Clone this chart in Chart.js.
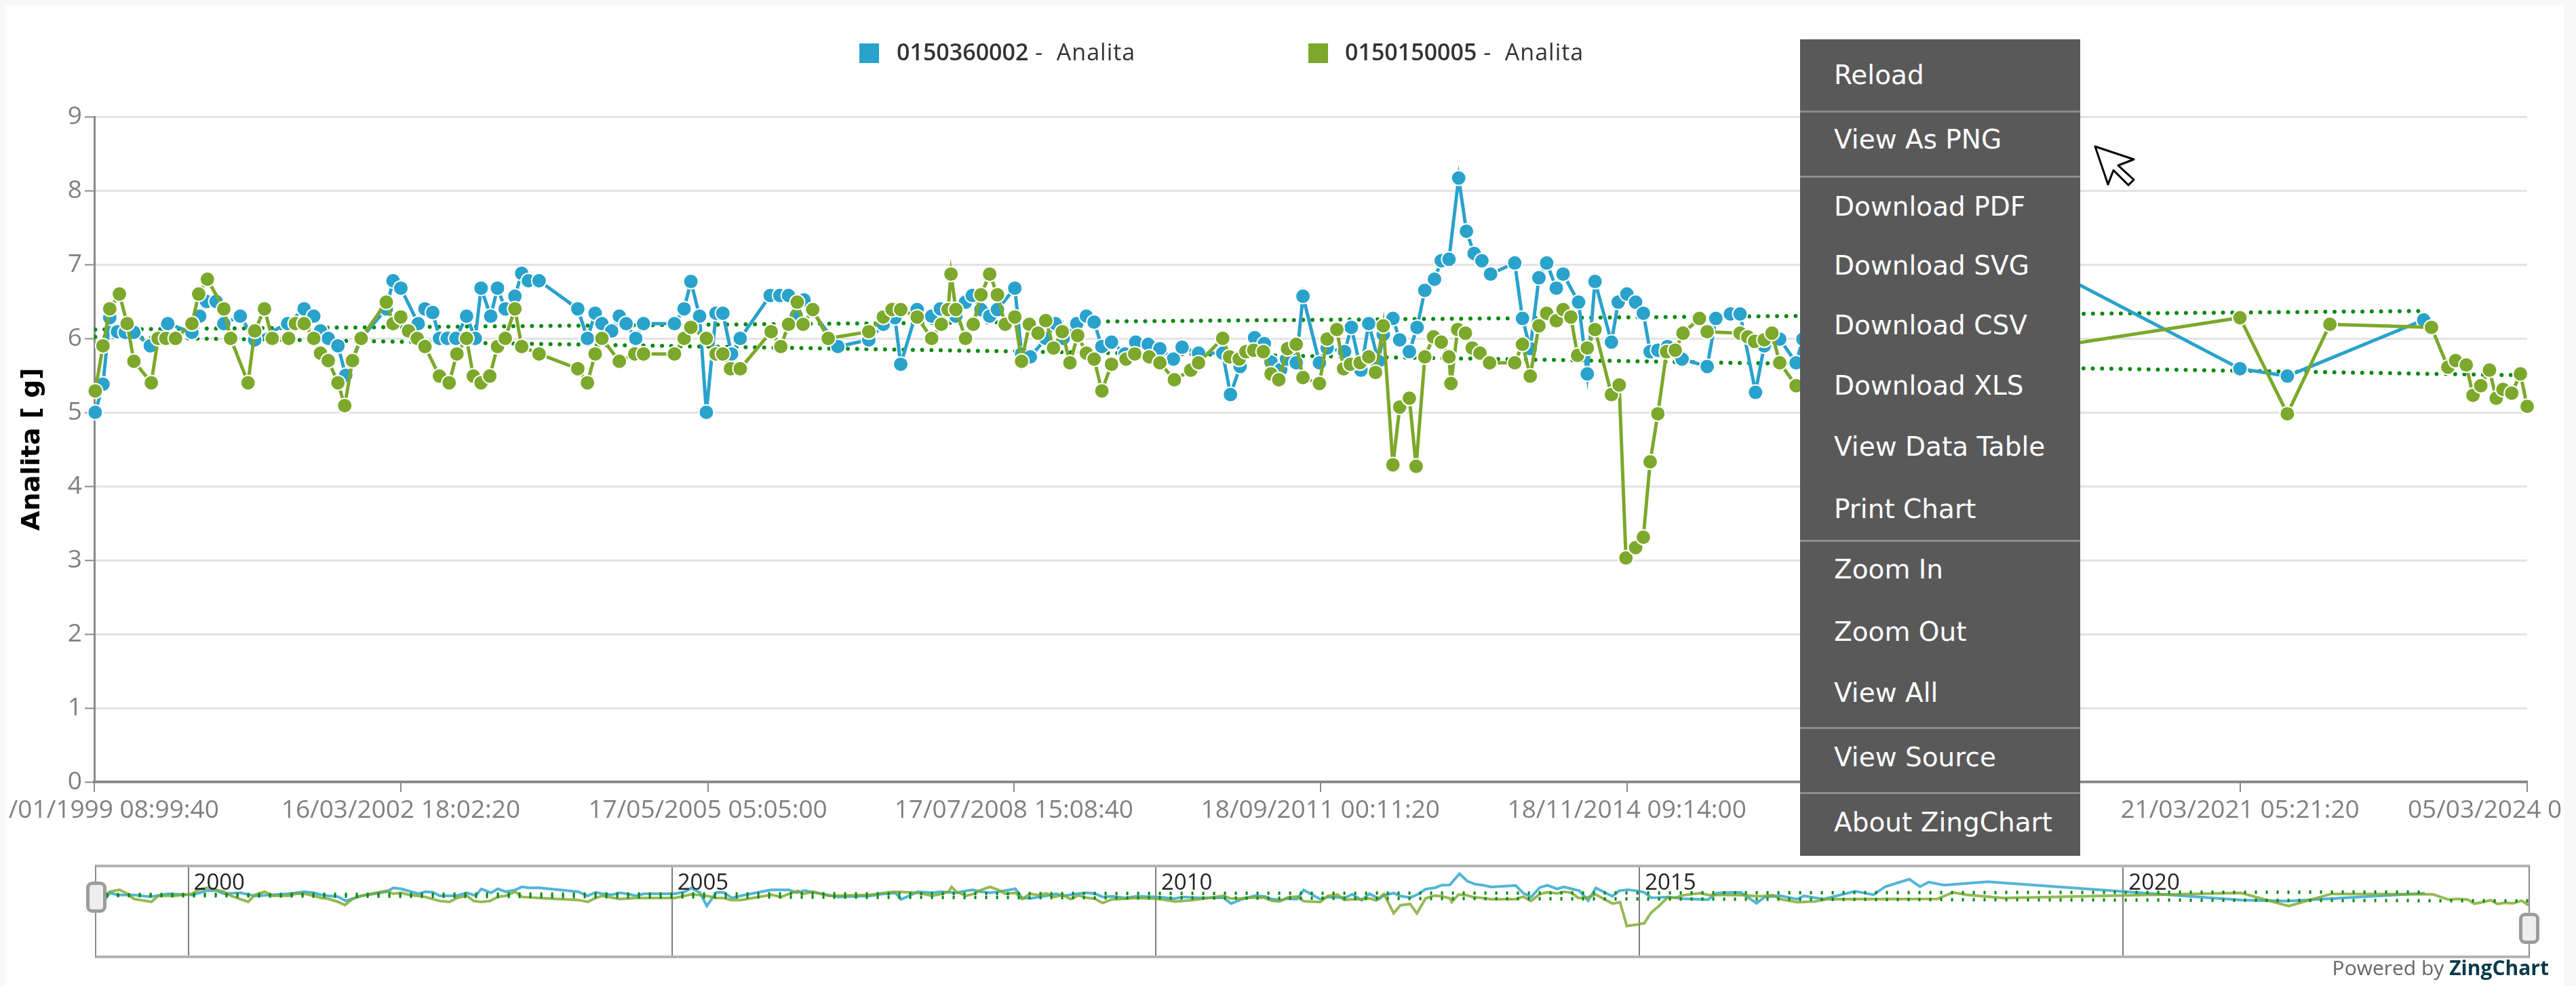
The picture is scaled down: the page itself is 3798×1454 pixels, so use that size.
<!DOCTYPE html>
<html>
<head>
<meta charset="utf-8">
<title>Analita</title>
<script src="https://cdn.jsdelivr.net/npm/chart.js@4"></script>
<style>
    html, body { margin: 0; padding: 0; width: 3798px; height: 1454px; overflow: hidden; background: #f8f8f8; }
    #card { position: absolute; left: 8px; top: 8px; width: 3772px; height: 1446px; background: #fff; }
    #main { position: absolute; left: 0; top: 0; }
    .legend { position: absolute; top: 52px; font: 34px "Open Sans"; color: #333; white-space: pre; line-height: 48px; letter-spacing: 1px; }
    .legend b { font-weight: 600; letter-spacing: 0; }
    .swatch { position: absolute; top: 64px; width: 29px; height: 29px; }
    #miniFrame { position: absolute; left: 140px; top: 1275px; width: 3586px; height: 130px; border-style: solid; border-color: #b4b4b4 #8c8c8c; border-width: 4px 2px; }
    #mini { position: absolute; left: 0; top: 0; }
    .handle { position: absolute; width: 20px; height: 36px; background: #eee; border: 5px solid #9c9c9c; border-radius: 9px; }
    #powered { position: absolute; right: 40px; top: 1406px; font: 30px "Open Sans"; color: #666; white-space: pre; }
    #powered b { color: #0b3a4a; }
    #menu { position: absolute; left: 2654px; top: 58px; width: 413px; height: 1204px; background: #595959; color: #fff; font: 39px "DejaVu Sans"; }
    #menu div { position: absolute; left: 50px; white-space: pre; line-height: 50px; }
    #menu hr { position: absolute; left: 0; width: 100%; height: 3px; margin: 0; border: 0; background: #8d8d8d; }
    #cursor { position: absolute; left: 0; top: 0; }
</style>
</head>
<body>
<div id="card"></div>
<canvas id="main" width="3798" height="1454"></canvas>

<div class="swatch" style="left:1267px;background:#29a2cc"></div>
<div class="legend" style="left:1322px"><b>0150360002</b> -  Analita</div>
<div class="swatch" style="left:1929px;background:#7ca82b"></div>
<div class="legend" style="left:1983px"><b>0150150005</b> -  Analita</div>

<div id="miniFrame"><canvas id="mini" width="3586" height="130"></canvas></div>
<div class="handle" style="left:127px;top:1300px"></div>
<div class="handle" style="left:3714px;top:1346px"></div>
<div id="powered">Powered by <b>ZingChart</b></div>

<div id="menu">
    <div style="top:28px">Reload</div>
    <hr style="top:105px">
    <div style="top:123px">View As PNG</div>
    <hr style="top:201px">
    <div style="top:222px">Download PDF</div>
    <div style="top:309px">Download SVG</div>
    <div style="top:397px">Download CSV</div>
    <div style="top:486px">Download XLS</div>
    <div style="top:576px">View Data Table</div>
    <div style="top:668px">Print Chart</div>
    <hr style="top:738px">
    <div style="top:757px">Zoom In</div>
    <div style="top:849px">Zoom Out</div>
    <div style="top:939px">View All</div>
    <hr style="top:1014px">
    <div style="top:1034px">View Source</div>
    <hr style="top:1110px">
    <div style="top:1130px">About ZingChart</div>
</div>

<svg id="cursor" width="3798" height="1454">
    <polygon points="3089,216 3146,235 3123,244 3146,265 3138,273 3116,251 3108,272" fill="#fff" stroke="#000" stroke-width="3" stroke-linejoin="round"/>
</svg>

<script>
// values, x is a decimal year
const blueYears = [
    1999.04, 1999.12, 1999.19, 1999.27, 1999.35, 1999.44, 1999.61, 1999.79, 2000.04, 2000.12,
    2000.19, 2000.29, 2000.37, 2000.54, 2000.69, 2001.03, 2001.20, 2001.30, 2001.37, 2001.45,
    2001.55, 2001.63, 2001.79, 2002.05, 2002.12, 2002.20, 2002.38, 2002.45, 2002.53, 2002.60,
    2002.68, 2002.77, 2002.88, 2002.97, 2003.03, 2003.13, 2003.20, 2003.28, 2003.38, 2003.45,
    2003.52, 2003.63, 2004.03, 2004.13, 2004.21, 2004.28, 2004.38, 2004.46, 2004.53, 2004.63,
    2004.71, 2005.03, 2005.13, 2005.20, 2005.29, 2005.36, 2005.46, 2005.53, 2005.62, 2005.71,
    2006.02, 2006.12, 2006.21, 2006.29, 2006.37, 2006.72, 2007.04, 2007.19, 2007.31, 2007.37,
    2007.54, 2007.69, 2007.78, 2007.94, 2008.04, 2008.11, 2008.20, 2008.29, 2008.37, 2008.55,
    2008.62, 2008.71, 2008.87, 2008.97, 2009.05, 2009.19, 2009.29, 2009.37, 2009.45, 2009.55,
    2009.69, 2009.80, 2009.93, 2010.05, 2010.19, 2010.28, 2010.45, 2010.70, 2010.78, 2010.88,
    2011.03, 2011.13, 2011.20, 2011.30, 2011.36, 2011.46, 2011.53, 2011.70, 2011.78, 2011.96,
    2012.03, 2012.13, 2012.21, 2012.31, 2012.36, 2012.46, 2012.53, 2012.63, 2012.71, 2012.79,
    2012.89, 2012.96, 2013.04, 2013.14, 2013.22, 2013.30, 2013.38, 2013.47, 2013.72, 2013.80,
    2013.88, 2013.97, 2014.05, 2014.15, 2014.22, 2014.38, 2014.47, 2014.55, 2014.72, 2014.79,
    2014.88, 2014.97, 2015.05, 2015.12, 2015.20, 2015.30, 2015.45, 2015.71, 2015.80, 2015.95,
    2016.05, 2016.21, 2016.30, 2016.46, 2016.63, 2016.70, 2016.90, 2017.23, 2017.42, 2017.54,
    2017.79, 2017.90, 2017.99, 2018.15, 2018.60, 2021.22, 2021.71, 2023.12
];
const blueValues = [
    5.0, 5.38, 6.28, 6.09, 6.08, 6.08, 5.9, 6.2, 6.08, 6.3,
    6.5, 6.5, 6.2, 6.3, 5.98, 6.2, 6.4, 6.3, 6.1, 6.0,
    5.9, 5.5, 6.0, 6.4, 6.78, 6.68, 6.2, 6.4, 6.35, 6.0,
    6.0, 6.0, 6.3, 6.0, 6.68, 6.3, 6.68, 6.4, 6.57, 6.88,
    6.78, 6.78, 6.4, 6.0, 6.34, 6.2, 6.1, 6.3, 6.2, 6.0,
    6.2, 6.2, 6.4, 6.77, 6.3, 5.0, 6.34, 6.34, 5.79, 6.0,
    6.58, 6.58, 6.58, 6.31, 6.52, 5.89, 5.98, 6.19, 6.28, 5.65,
    6.39, 6.3, 6.4, 6.3, 6.49, 6.58, 6.39, 6.3, 6.39, 6.68,
    5.79, 5.75, 6.0, 6.2, 6.0, 6.2, 6.3, 6.22, 5.89, 5.95,
    5.79, 5.95, 5.92, 5.86, 5.72, 5.88, 5.8, 5.8, 5.24, 5.62,
    6.01, 5.93, 5.68, 5.58, 5.72, 5.67, 6.57, 5.67, 5.87, 5.82,
    6.15, 5.57, 6.2, 5.69, 6.05, 6.27, 5.98, 5.82, 6.15, 6.65,
    6.8, 7.05, 7.07, 8.17, 7.45, 7.15, 7.05, 6.87, 7.02, 6.27,
    5.86, 6.82, 7.02, 6.68, 6.87, 6.49, 5.52, 6.77, 5.95, 6.49,
    6.6, 6.49, 6.34, 5.82, 5.84, 5.89, 5.72, 5.62, 6.27, 6.33,
    6.33, 5.27, 5.9, 5.99, 5.67, 5.99, 5.67, 6.45, 6.1, 6.9,
    7.63, 6.9, 7.34, 7.05, 7.38, 5.59, 5.49, 6.25
];

const greenYears = [
    1999.04, 1999.12, 1999.19, 1999.29, 1999.37, 1999.44, 1999.62, 1999.69, 1999.77, 1999.87,
    2000.04, 2000.11, 2000.20, 2000.37, 2000.44, 2000.62, 2000.69, 2000.79, 2000.87, 2001.04,
    2001.11, 2001.20, 2001.30, 2001.37, 2001.45, 2001.55, 2001.62, 2001.70, 2001.79, 2002.05,
    2002.12, 2002.20, 2002.28, 2002.37, 2002.45, 2002.60, 2002.70, 2002.78, 2002.88, 2002.95,
    2003.03, 2003.12, 2003.20, 2003.28, 2003.38, 2003.45, 2003.63, 2004.03, 2004.13, 2004.21,
    2004.28, 2004.46, 2004.62, 2004.71, 2005.03, 2005.13, 2005.20, 2005.36, 2005.46, 2005.53,
    2005.61, 2005.71, 2006.03, 2006.13, 2006.21, 2006.30, 2006.36, 2006.46, 2006.62, 2007.04,
    2007.19, 2007.28, 2007.37, 2007.54, 2007.69, 2007.79, 2007.86, 2007.89, 2007.94, 2008.04,
    2008.12, 2008.20, 2008.29, 2008.37, 2008.45, 2008.55, 2008.62, 2008.70, 2008.79, 2008.87,
    2008.95, 2009.04, 2009.12, 2009.20, 2009.29, 2009.37, 2009.45, 2009.55, 2009.70, 2009.79,
    2009.94, 2010.05, 2010.20, 2010.37, 2010.45, 2010.70, 2010.77, 2010.87, 2010.94, 2011.02,
    2011.12, 2011.20, 2011.28, 2011.37, 2011.46, 2011.53, 2011.70, 2011.78, 2011.88, 2011.95,
    2012.02, 2012.12, 2012.21, 2012.28, 2012.36, 2012.46, 2012.53, 2012.63, 2012.70, 2012.79,
    2012.88, 2012.96, 2013.04, 2013.06, 2013.13, 2013.21, 2013.28, 2013.36, 2013.46, 2013.72,
    2013.80, 2013.88, 2013.97, 2014.05, 2014.15, 2014.22, 2014.30, 2014.37, 2014.47, 2014.55,
    2014.72, 2014.80, 2014.87, 2014.97, 2015.05, 2015.12, 2015.20, 2015.29, 2015.38, 2015.46,
    2015.63, 2015.71, 2016.05, 2016.13, 2016.20, 2016.30, 2016.38, 2016.46, 2016.63, 2016.81,
    2016.94, 2018.08, 2018.24, 2018.38, 2018.76, 2021.22, 2021.71, 2022.15, 2023.20, 2023.37,
    2023.45, 2023.56, 2023.63, 2023.71, 2023.80, 2023.87, 2023.94, 2024.03, 2024.12, 2024.19
];
const greenValues = [
    5.29, 5.9, 6.4, 6.6, 6.2, 5.69, 5.4, 6.0, 6.0, 6.0,
    6.2, 6.6, 6.8, 6.4, 6.0, 5.4, 6.1, 6.4, 6.0, 6.0,
    6.2, 6.2, 6.0, 5.8, 5.7, 5.4, 5.09, 5.7, 6.0, 6.49,
    6.2, 6.29, 6.1, 6.0, 5.89, 5.49, 5.4, 5.79, 6.0, 5.49,
    5.4, 5.49, 5.89, 6.0, 6.4, 5.89, 5.79, 5.59, 5.4, 5.79,
    6.0, 5.69, 5.79, 5.79, 5.79, 6.0, 6.15, 6.0, 5.79, 5.79,
    5.59, 5.59, 6.09, 5.89, 6.19, 6.49, 6.19, 6.39, 6.0, 6.09,
    6.29, 6.39, 6.39, 6.29, 6.0, 6.19, 6.39, 6.87, 6.39, 6.0,
    6.19, 6.59, 6.87, 6.59, 6.19, 6.29, 5.69, 6.19, 6.07, 6.24,
    5.87, 6.09, 5.67, 6.04, 5.8, 5.72, 5.29, 5.65, 5.72, 5.79,
    5.75, 5.67, 5.44, 5.57, 5.67, 6.0, 5.75, 5.72, 5.82, 5.84,
    5.82, 5.52, 5.44, 5.86, 5.92, 5.47, 5.39, 5.99, 6.12, 5.59,
    5.65, 5.67, 5.75, 5.54, 6.17, 4.29, 5.07, 5.19, 4.27, 5.75,
    6.02, 5.95, 5.75, 5.39, 6.12, 6.07, 5.87, 5.8, 5.67, 5.67,
    5.92, 5.49, 6.17, 6.34, 6.24, 6.39, 6.29, 5.77, 5.87, 6.12,
    5.24, 5.37, 3.03, 3.17, 3.31, 4.33, 4.98, 5.82, 5.84, 6.07,
    6.27, 6.09, 6.07, 6.02, 5.96, 5.98, 6.07, 5.67, 5.36, 5.44,
    5.67, 5.7, 6.33, 6.1, 5.78, 6.28, 4.98, 6.19, 6.15, 5.61,
    5.7, 5.64, 5.23, 5.36, 5.57, 5.19, 5.31, 5.26, 5.52, 5.08
];

const blueTrendYears = [1999.04, 2023.12];
const blueTrendValues = [6.12, 6.37];
const greenTrendYears = [1999.04, 2024.19];
const greenTrendValues = [6.02, 5.5];

const tickYears = [1999.03, 2002.20, 2005.375, 2008.54, 2011.71, 2014.88, 2021.22, 2024.19];
const tickLabels = [
    "/01/1999 08:99:40", "16/03/2002 18:02:20", "17/05/2005 05:05:00", "17/07/2008 15:08:40",
    "18/09/2011 00:11:20", "18/11/2014 09:14:00", "21/03/2021 05:21:20", "05/03/2024 0"
];
const valueTicks = [0, 1, 2, 3, 4, 5, 6, 7, 8, 9];
const miniYears = [2000, 2005, 2010, 2015, 2020];

const firstYear = 1999.03;
const lastYear = 2024.19;

const BLUE = "#29a2cc";
const GREEN = "#7ca82b";
const TREND = "#0a8a14";
const AXIS = "#8a8a8a";

const toPoints = (years, values) => years.map((year, i) => ({x: year, y: values[i]}));

Chart.defaults.font.family = "Open Sans";
Chart.defaults.animation = false;

const lineSet = (years, values, color, order) => ({
    data: toPoints(years, values),
    borderColor: color,
    backgroundColor: color,
    borderWidth: 5,
    pointRadius: 11,
    pointBorderColor: "#fff",
    pointBorderWidth: 2,
    pointBackgroundColor: color,
    clip: false,
    order: order
});

const trendSet = (years, values, order) => ({
    data: toPoints(years, values),
    borderColor: TREND,
    borderWidth: 6,
    borderCapStyle: "round",
    borderDash: [0, 13.7],
    pointRadius: 0,
    order: order
});

new Chart(document.querySelector("#main"), {
    type: "line",
    data: {
        datasets: [
            lineSet(greenYears, greenValues, GREEN, 1),
            lineSet(blueYears, blueValues, BLUE, 2),
            trendSet(greenTrendYears, greenTrendValues, 3),
            trendSet(blueTrendYears, blueTrendValues, 4)
        ]
    },
    options: {
        responsive: false,
        devicePixelRatio: 1,
        layout: {padding: {top: 172, right: 72, bottom: 0, left: 0}},
        plugins: {legend: {display: false}, tooltip: {enabled: false}},
        scales: {
            x: {
                type: "linear",
                min: firstYear,
                max: lastYear,
                afterBuildTicks: scale => { scale.ticks = tickYears.map(value => ({value})); },
                afterFit: scale => {
                    // the end labels run off the chart, they must not shrink the plot
                    scale.height = 301;
                    scale.paddingLeft = 0;
                    scale.paddingRight = 0;
                },
                grid: {drawOnChartArea: false, tickLength: 15, color: AXIS, lineWidth: 2},
                border: {color: AXIS, width: 4},
                ticks: {
                    autoSkip: false,
                    maxRotation: 0,
                    minRotation: 0,
                    padding: 5,
                    color: "#808080",
                    font: {size: 37},
                    callback: (value, i) => {
                        // the reference cuts the first and last label at the page edge
                        if (i === 0) return "      " + tickLabels[i];
                        if (i === tickLabels.length - 1) return tickLabels[i] + "             ";
                        return tickLabels[i];
                    }
                }
            },
            y: {
                min: 0,
                max: 9,
                afterBuildTicks: scale => { scale.ticks = valueTicks.map(value => ({value})); },
                afterFit: scale => { scale.width = 139; },
                grid: {color: "#e3e3e3", lineWidth: 3, tickColor: AXIS, tickLength: 14, tickWidth: 2},
                border: {color: AXIS, width: 3},
                ticks: {padding: 4, color: "#808080", font: {size: 37}},
                title: {
                    display: true,
                    text: "Analita [ g]",
                    color: "#000",
                    padding: {top: 25, bottom: 0},
                    font: {family: "DejaVu Sans", size: 38, weight: "bold"}
                }
            }
        }
    }
});

// the small overview under the chart
const miniSet = (years, values, color, order) => ({
    data: toPoints(years, values),
    borderColor: color,
    borderWidth: 4,
    pointRadius: 0,
    order: order
});

const miniTrendSet = (years, values, order) => ({
    data: toPoints(years, values),
    borderColor: TREND,
    borderWidth: 5,
    borderDash: [3, 13],
    pointRadius: 0,
    order: order
});

// scale labels get clipped on a zero height axis, so write the years here
const miniYearLabels = {
    id: "miniYearLabels",
    afterDraw: chart => {
        const ctx = chart.ctx;
        const scale = chart.scales.x;
        ctx.save();
        ctx.font = '33px "Open Sans"';
        ctx.fillStyle = "#222";
        miniYears.forEach(year => {
            ctx.fillText(String(year), scale.getPixelForValue(year) + 8, 33);
        });
        ctx.restore();
    }
};

new Chart(document.querySelector("#mini"), {
    type: "line",
    plugins: [miniYearLabels],
    data: {
        datasets: [
            miniTrendSet(greenTrendYears, greenTrendValues, 1),
            miniTrendSet(blueTrendYears, blueTrendValues, 2),
            miniSet(greenYears, greenValues, "rgba(124,168,43,.8)", 3),
            miniSet(blueYears, blueValues, "rgba(41,162,204,.8)", 4)
        ]
    },
    options: {
        responsive: false,
        devicePixelRatio: 1,
        layout: {padding: 0},
        plugins: {legend: {display: false}, tooltip: {enabled: false}},
        scales: {
            x: {
                type: "linear",
                position: "top",
                min: 1999.05,
                max: lastYear,
                afterBuildTicks: scale => { scale.ticks = miniYears.map(value => ({value})); },
                afterFit: scale => {
                    scale.height = 0;
                    scale.paddingLeft = 0;
                    scale.paddingRight = 0;
                },
                grid: {color: "#7d7d7d", lineWidth: 2, drawTicks: false},
                border: {display: false},
                ticks: {display: false}
            },
            y: {display: false, min: 0.13, max: 8.8}
        }
    }
});
</script>
</body>
</html>
